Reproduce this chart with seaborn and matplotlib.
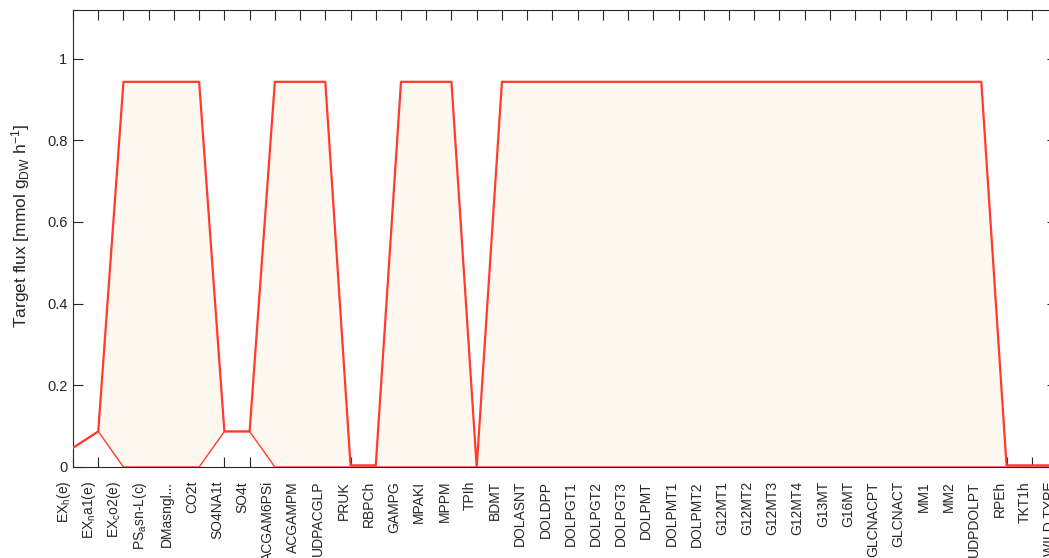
import numpy as np
import pandas as pd
import matplotlib
matplotlib.use("Agg")
import matplotlib.pyplot as plt
import seaborn as sns

# Reactions along the x axis (TeX-style single-character subscripts)
reactions = [
    "EX$_h$(e)", "EX$_n$a1(e)", "EX$_c$o2(e)", "PS$_a$sn-L(c)", "DMasngl...",
    "CO2t", "SO4NA1t", "SO4t", "ACGAM6PSi", "ACGAMPM", "UDPACGLP", "PRUK",
    "RBPCh", "GAMPG", "MPAKI", "MPPM", "TPIh", "BDMT", "DOLASNT", "DOLDPP",
    "DOLPGT1", "DOLPGT2", "DOLPGT3", "DOLPMT", "DOLPMT1", "DOLPMT2", "G12MT1",
    "G12MT2", "G12MT3", "G12MT4", "G13MT", "G16MT", "GLCNACPT", "GLCNACT",
    "MM1", "MM2", "UDPDOLPT", "RPEh", "TKT1h", "WILD TYPE",
]

# Upper and lower bound of the target flux for each knockout
flux_max = [
    0.047, 0.087, 0.943, 0.943, 0.943, 0.943, 0.087, 0.087, 0.943, 0.943,
    0.943, 0.004, 0.004, 0.943, 0.943, 0.943, 0.0, 0.943, 0.943, 0.943,
    0.943, 0.943, 0.943, 0.943, 0.943, 0.943, 0.943, 0.943, 0.943, 0.943,
    0.943, 0.943, 0.943, 0.943, 0.943, 0.943, 0.943, 0.004, 0.004, 0.004,
]
flux_min = [
    0.047, 0.087, 0.0, 0.0, 0.0, 0.0, 0.087, 0.087, 0.0, 0.0,
    0.0, 0.0, 0.0, 0.0, 0.0, 0.0, 0.0, 0.0, 0.0, 0.0,
    0.0, 0.0, 0.0, 0.0, 0.0, 0.0, 0.0, 0.0, 0.0, 0.0,
    0.0, 0.0, 0.0, 0.0, 0.0, 0.0, 0.0, 0.0, 0.0, 0.0,
]

sns.set_theme(style="white")
plt.rcParams["font.family"] = ["Liberation Sans", "DejaVu Sans"]
plt.rcParams["mathtext.fontset"] = "custom"
plt.rcParams["mathtext.rm"] = "Liberation Sans"
plt.rcParams["mathtext.it"] = "Liberation Sans"
plt.rcParams["mathtext.default"] = "regular"

RED = "#FF3B2E"
FILL = "#FEF8F1"
INK = "#262626"

W, H = 1049, 558
fig = plt.figure(figsize=(W / 100, H / 100), dpi=100)
# axes box extends slightly past the right edge of the canvas
left, right, top, bottom = 73, 1057, 9.5, 467
ax = fig.add_axes([left / W, (H - bottom) / H, (right - left) / W, (bottom - top) / H])

df = pd.DataFrame({
    "pos": np.arange(len(reactions)),
    "upper": flux_max,
    "lower": flux_min,
})

ax.fill_between(df["pos"], df["lower"], df["upper"], color=FILL, lw=0, zorder=1)
sns.lineplot(data=df, x="pos", y="lower", color=RED, lw=1.0, ax=ax, zorder=3)
sns.lineplot(data=df, x="pos", y="upper", color=RED, lw=1.6, ax=ax, zorder=3)

ax.set_xlim(0, len(reactions) - 1)
ax.set_ylim(0, 1.12)
ax.set_xticks(df["pos"])
ax.set_xticklabels(reactions, rotation=90, ha="right", fontsize=10, color=INK)
ax.set_yticks([0, 0.2, 0.4, 0.6, 0.8, 1.0])
ax.set_yticklabels(["0", "0.2", "0.4", "0.6", "0.8", "1"], fontsize=10.5, color=INK)
ax.set_xlabel("")
ax.set_ylabel("Target flux [mmol g$_{DW}$ h$^{-1}$]", fontsize=12.5, color=INK)
ax.yaxis.set_label_coords(-0.042, 0.527)

ax.tick_params(axis="both", direction="in", length=7, width=0.8, color=INK,
               top=True, right=True, bottom=True, left=True)
ax.tick_params(axis="x", pad=10)
ax.tick_params(axis="y", pad=4)
for sp in ax.spines.values():
    sp.set_color(INK)
    sp.set_linewidth(0.8)
    sp.set_visible(True)
ax.set_facecolor("white")
ax.grid(False)

fig.savefig("out.png", dpi=100)
